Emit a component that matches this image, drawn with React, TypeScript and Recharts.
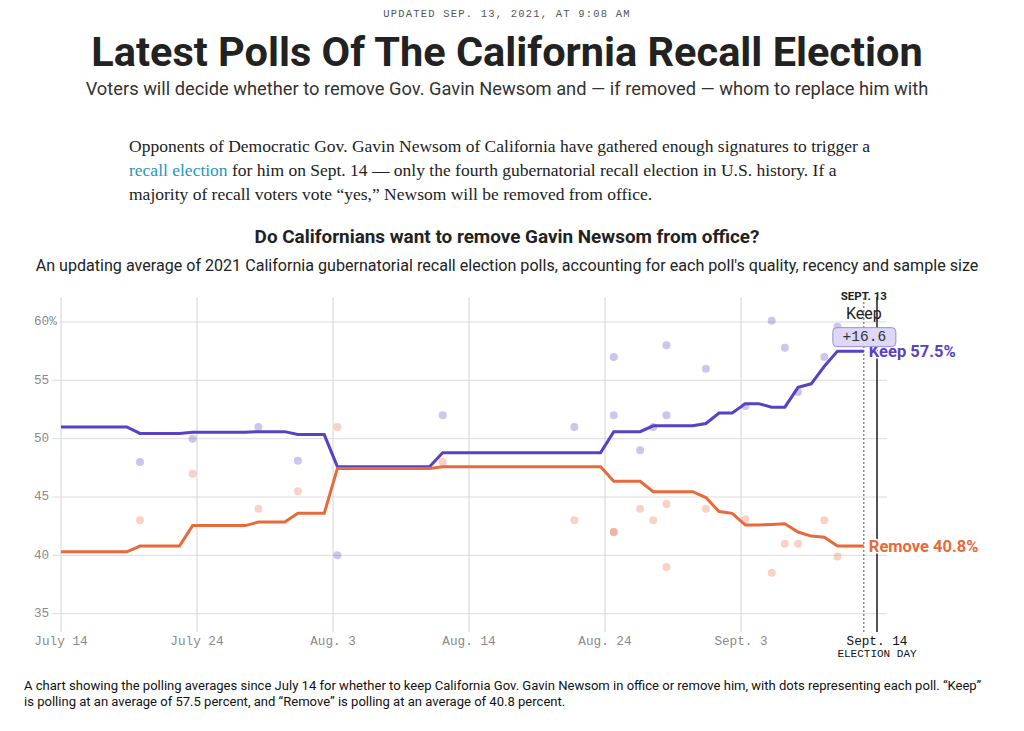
import { CartesianGrid, ComposedChart, Line, ReferenceLine, Scatter, XAxis, YAxis } from 'recharts';

// days since July 14 (Sept. 13 = 61, election day = 62)
const days = [
  0, 1, 2, 3, 4, 5, 6, 7, 8, 9, 10, 11, 12, 13, 14, 15, 16, 17, 18, 19, 20,
  21, 22, 23, 24, 25, 26, 27, 28, 29, 30, 31, 32, 33, 34, 35, 36, 37, 38, 39, 40,
  41, 42, 43, 44, 45, 46, 47, 48, 49, 50, 51, 52, 53, 54, 55, 56, 57, 58, 59, 60, 61,
];

const keepAvg = [
  51.0, 51.0, 51.0, 51.0, 51.0, 51.0,
  50.45, 50.45, 50.45, 50.45,
  50.55, 50.55, 50.55, 50.55, 50.55,
  50.6, 50.6, 50.6,
  50.35, 50.35, 50.35,
  47.6, 47.6, 47.6, 47.6, 47.6, 47.6, 47.6, 47.6,
  48.8, 48.8, 48.8, 48.8, 48.8, 48.8, 48.8, 48.8, 48.8, 48.8, 48.8, 48.8, 48.8,
  50.6, 50.6, 50.6,
  51.1, 51.1, 51.1, 51.1,
  51.3,
  52.2, 52.2,
  53.0, 53.0,
  52.7, 52.7,
  54.4, 54.7, 56.2,
  57.5, 57.5, 57.5,
];

const removeAvg = [
  40.3, 40.3, 40.3, 40.3, 40.3, 40.3,
  40.8, 40.8, 40.8, 40.8,
  42.55, 42.55, 42.55, 42.55, 42.55,
  42.85, 42.85, 42.85,
  43.6, 43.6, 43.6,
  47.45, 47.45, 47.45, 47.45, 47.45, 47.45, 47.45, 47.45,
  47.6, 47.6, 47.6, 47.6, 47.6, 47.6, 47.6, 47.6, 47.6, 47.6, 47.6, 47.6, 47.6,
  46.35, 46.35, 46.35,
  45.45, 45.45, 45.45, 45.45,
  44.95, 43.75, 43.6, 42.6,
  42.6, 42.65, 42.7,
  42.0, 41.65, 41.55,
  40.8, 40.8, 40.8,
];

// individual polls
const pollDays = [6, 10, 15, 18, 21, 29, 39, 42, 42, 44, 45, 46, 46, 49, 52, 54, 55, 56, 58, 59];
const pollKeep = [48, 50, 51, 48.1, 40, 52, 51, 57, 52, 49, 51, 58, 52, 56, 52.8, 60.1, 57.8, 54, 57, 59.6];
const pollRemove = [43, 47, 44, 45.5, 51, 48, 43, 42, 42, 44, 43, 44.4, 39, 44, 43.1, 38.5, 41, 41, 43, 39.9];

const xTickDays = [0, 10.33, 20.67, 31, 41.33, 51.67, 62];
const xTickLabels = ['July 14', 'July 24', 'Aug. 3', 'Aug. 14', 'Aug. 24', 'Sept. 3', 'Sept. 14'];
const yTicks = [35, 40, 45, 50, 55, 60];

const latestDay = 61;
const electionDay = 62;
const leadLabel = '+16.6';

const KEEP = '#5a40c4';
const REMOVE = '#e86a3a';
const SANS = 'Roboto, "Noto Sans", Arial, sans-serif';
const MONO = '"Liberation Mono", "DejaVu Sans Mono", monospace';
const SERIF = '"Liberation Serif", "DejaVu Serif", serif';

const PLOT_LEFT = 61;
const PLOT_TOP = 297;
const PLOT_RIGHT = 887;
const PLOT_BOTTOM = 632;
const GRID = '#dcdcdc';

const lineData = days.map((d, i) => ({ day: d, keep: keepAvg[i], remove: removeAvg[i] }));
const pollData = pollDays.map((d, i) => ({ day: d, keep: pollKeep[i], remove: pollRemove[i] }));

// grid lines, minus the frame at the plot edges
function HGrid(p: any) {
  if (p.y1 < PLOT_TOP + 1 || p.y1 > PLOT_BOTTOM - 1) return <g key={p.key} />;
  return <line key={p.key} x1={p.x1} x2={p.x2} y1={p.y1} y2={p.y2} stroke={GRID} />;
}
function VGrid(p: any) {
  if (p.x1 > PLOT_RIGHT - 1) return <g key={p.key} />;
  return <line key={p.key} x1={p.x1} x2={p.x2} y1={p.y1} y2={p.y2} stroke="#d4d4d4" />;
}

function YTick(props: any) {
  const { y, payload } = props;
  const label = payload.value === 60 ? '60%' : String(payload.value);
  const start = 34 + label.length * 7.6 + 3;
  return (
    <g>
      <line x1={start} x2={PLOT_LEFT} y1={y} y2={y} stroke={GRID} />
      <text x={34} y={y} dominantBaseline="central" fill="#8a8a8a" fontSize={12.7} fontFamily={MONO}>
        {label}
      </text>
    </g>
  );
}

function XTick(props: any) {
  const { x, y, payload, index } = props;
  const last = index === xTickLabels.length - 1;
  return (
    <g>
      <text x={x} y={y + 9} textAnchor="middle" dominantBaseline="central" fill={last ? '#111' : '#8a8a8a'} fontSize={12.7} fontFamily={MONO}>
        {xTickLabels[xTickDays.indexOf(payload.value)]}
      </text>
      {last && (
        <text x={x} y={y + 22} textAnchor="middle" dominantBaseline="central" fill="#111" fontSize={11} fontFamily={MONO}>
          ELECTION DAY
        </text>
      )}
    </g>
  );
}

function LatestLabel(props: any) {
  const { viewBox } = props;
  const x = viewBox.x;
  const y = viewBox.y;
  return (
    <g>
      <text x={x} y={y - 1.5} textAnchor="middle" dominantBaseline="central" fill="#222" fontSize={11.5} fontWeight={700} fontFamily={SANS}>
        SEPT. 13
      </text>
      <text x={x} y={y + 16} textAnchor="middle" dominantBaseline="central" fill="#222" fontSize={16} fontFamily={SANS}>
        Keep
      </text>
    </g>
  );
}

function EndLabel(props: any) {
  const { x, y, index, text, color, lead } = props;
  if (index !== days.length - 1) return null;
  return (
    <g>
      <text
        x={x + 5}
        y={y}
        dominantBaseline="central"
        fill={color}
        fontSize={16.5}
        fontWeight={700}
        fontFamily={SANS}
        stroke="#fff"
        strokeWidth={3}
        paintOrder="stroke"
      >
        {text}
      </text>
      {lead && (
        <g>
          <rect x={x - 31} y={y - 23.5} width={63} height={19} rx={4} fill="#dcd8f6" stroke="#9a8fdc" />
          <text x={x + 0.5} y={y - 14} textAnchor="middle" dominantBaseline="central" fill="#333" fontSize={14.5} fontFamily={MONO}>
            {lead}
          </text>
        </g>
      )}
    </g>
  );
}

const dot = (color: string) => (p: any) => <circle cx={p.cx} cy={p.cy} r={4} fill={color} fillOpacity={0.3} />;

export default function App() {
  const lastKeep = keepAvg[keepAvg.length - 1];
  const lastRemove = removeAvg[removeAvg.length - 1];
  return (
    <div style={{ position: 'absolute', left: 0, top: 0, width: 1024, height: 731, background: '#fff', overflow: 'hidden', fontFamily: SANS }}>
      <div style={{ position: 'absolute', left: 0, top: 0 }}>
        <ComposedChart width={1024} height={731} data={lineData} margin={{ top: PLOT_TOP, right: 1024 - PLOT_RIGHT, bottom: 731 - PLOT_BOTTOM - 30, left: 34 }}>
          <CartesianGrid horizontal={HGrid} vertical={VGrid} />
          <XAxis
            dataKey="day"
            type="number"
            domain={[0, 62.76]}
            ticks={xTickDays}
            tick={<XTick />}
            tickLine={false}
            axisLine={false}
            tickSize={0}
            tickMargin={0}
            height={30}
            interval={0}
          />
          <YAxis
            type="number"
            domain={[33.43, 62.14]}
            ticks={yTicks}
            tick={<YTick />}
            tickLine={false}
            axisLine={false}
            width={PLOT_LEFT - 34}
            interval={0}
          />
          <Scatter data={pollData} dataKey="keep" shape={dot(KEEP)} isAnimationActive={false} />
          <Scatter data={pollData} dataKey="remove" shape={dot(REMOVE)} isAnimationActive={false} />
          <ReferenceLine x={latestDay} stroke="#555" strokeDasharray="2 2" label={<LatestLabel />} />
          <ReferenceLine x={electionDay} stroke="#222" strokeWidth={1.5} />
          <Line
            dataKey="keep"
            stroke={KEEP}
            strokeWidth={3}
            dot={false}
            type="linear"
            isAnimationActive={false}
            label={(p: any) => <EndLabel {...p} text={`Keep ${lastKeep}%`} color={KEEP} lead={leadLabel} />}
          />
          <Line
            dataKey="remove"
            stroke={REMOVE}
            strokeWidth={3}
            dot={false}
            type="linear"
            isAnimationActive={false}
            label={(p: any) => <EndLabel {...p} text={`Remove ${lastRemove}%`} color={REMOVE} />}
          />
        </ComposedChart>
      </div>

      <div style={{ position: 'absolute', top: 8, left: 0, width: 1014, textAlign: 'center', fontFamily: MONO, fontSize: 10.5, lineHeight: '12px', letterSpacing: 1.2, color: '#555' }}>
        UPDATED SEP. 13, 2021, AT 9:08 AM
      </div>
      <div style={{ position: 'absolute', top: 31, left: 0, width: 1014, textAlign: 'center', fontSize: 41.5, lineHeight: '42px', fontWeight: 700, color: '#222', whiteSpace: 'nowrap' }}>
        Latest Polls Of The California Recall Election
      </div>
      <div style={{ position: 'absolute', top: 79, left: 0, width: 1014, textAlign: 'center', fontSize: 18.3, lineHeight: '20px', color: '#333', whiteSpace: 'nowrap' }}>
        Voters will decide whether to remove Gov. Gavin Newsom and — if removed — whom to replace him with
      </div>
      <div style={{ position: 'absolute', top: 134, left: 129, fontFamily: SERIF, fontSize: 17.5, lineHeight: '24px', color: '#222', whiteSpace: 'nowrap' }}>
        Opponents of Democratic Gov. Gavin Newsom of California have gathered enough signatures to trigger a
        <br />
        <span style={{ color: '#2596c0' }}>recall election</span> for him on Sept. 14 — only the fourth gubernatorial recall election in U.S. history. If a
        <br />
        majority of recall voters vote “yes,” Newsom will be removed from office.
      </div>
      <div style={{ position: 'absolute', top: 226, left: 0, width: 1014, textAlign: 'center', fontSize: 18.9, lineHeight: '22px', fontWeight: 700, color: '#222', whiteSpace: 'nowrap' }}>
        Do Californians want to remove Gavin Newsom from office?
      </div>
      <div style={{ position: 'absolute', top: 256, left: 0, width: 1014, textAlign: 'center', fontSize: 16.1, lineHeight: '20px', color: '#222', whiteSpace: 'nowrap' }}>
        An updating average of 2021 California gubernatorial recall election polls, accounting for each poll's quality, recency and sample size
      </div>
      <div style={{ position: 'absolute', top: 678, left: 24, fontSize: 13.05, lineHeight: '16px', color: '#111', whiteSpace: 'nowrap' }}>
        A chart showing the polling averages since July 14 for whether to keep California Gov. Gavin Newsom in office or remove him, with dots representing each poll. “Keep”
        <br />
        is polling at an average of 57.5 percent, and “Remove” is polling at an average of 40.8 percent.
      </div>
    </div>
  );
}
